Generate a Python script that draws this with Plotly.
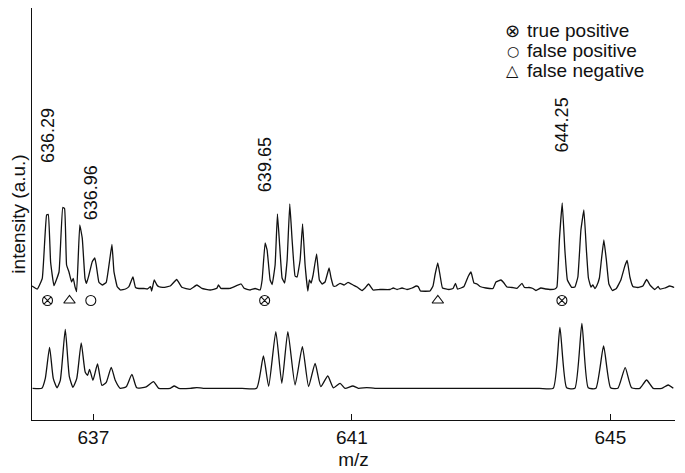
import plotly.graph_objects as go

# ---------------- data ----------------
# measured (noisy) spectrum
top_mz = [636.050, 636.132, 636.209, 636.276, 636.302, 636.338, 636.390, 636.468, 636.526, 636.554,
          636.585, 636.622, 636.662, 636.689, 636.715, 636.740, 636.789, 636.828, 636.870, 636.894,
          636.931, 636.982, 637.021, 637.044, 637.086, 637.137, 637.199, 637.287, 637.318, 637.369,
          637.420, 637.497, 637.550, 637.612, 637.652, 637.705, 637.782, 637.833, 637.884, 637.902,
          637.941, 637.983, 638.014, 638.085, 638.189, 638.289, 638.369, 638.498, 638.601, 638.679,
          638.807, 638.911, 638.935, 638.972, 639.116, 639.286, 639.333, 639.426, 639.503, 639.580,
          639.611, 639.657, 639.688, 639.735, 639.766, 639.812, 639.848, 639.882, 639.920, 639.959,
          639.998, 640.039, 640.075, 640.121, 640.152, 640.199, 640.237, 640.276, 640.318, 640.343,
          640.369, 640.400, 640.454, 640.497, 640.539, 640.585, 640.647, 640.678, 640.714, 640.755,
          640.817, 640.879, 640.941, 641.018, 641.080, 641.157, 641.204, 641.258, 641.328, 641.436,
          641.590, 641.641, 641.699, 641.776, 641.853, 641.931, 641.997, 642.028, 642.062, 642.209,
          642.255, 642.286, 642.329, 642.364, 642.402, 642.503, 642.565, 642.603, 642.634, 642.688,
          642.735, 642.796, 642.843, 642.889, 642.936, 642.982, 643.075, 643.183, 643.229, 643.307,
          643.353, 643.400, 643.477, 643.554, 643.632, 643.670, 643.740, 643.802, 643.848, 643.925,
          644.003, 644.065, 644.142, 644.173, 644.211, 644.255, 644.296, 644.335, 644.400, 644.451,
          644.497, 644.544, 644.590, 644.629, 644.660, 644.699, 644.729, 644.760, 644.791, 644.830,
          644.861, 644.899, 644.938, 644.977, 645.031, 645.093, 645.162, 645.224, 645.260, 645.302,
          645.348, 645.425, 645.503, 645.560, 645.618, 645.688, 645.739, 645.765, 645.843, 645.920,
          645.987]
top_int = [4, 1, 11.7, 75, 75.5, 28, 4.3, 18, 82.5, 81.5,
           25, 18, 8, 11.7, 3.3, -1.7, 65, 51.7, 11.7, 6.7,
           15, 28.3, 32, 25, 7.7, 5, 7.7, 45.5, 18.3, 3.3,
           0, 1, 3.3, 13, 2.5, 1.5, 1.5, 1, 3.3, -1,
           10, 5, 3.3, 2.7, 4, 10.5, 2.7, 0.7, 5, 1.7,
           0, 1.7, 5, 1.7, 1.7, 6, 1.7, 0, 1.5, 0,
           10, 47, 40, 10, 5.5, 25, 76, 45, 12, 7,
           30, 86, 50, 14, 13, 30, 66, 25, -1, 10,
           7, 15, 36, 10, 6, 8, 22, 12, 4, 4,
           6.7, 5, 7.7, 5, 3, -0.5, 2, 6, 0, 0.5,
           0.5, 2, 0.5, 2, 0.5, 2, 4, 3.3, -1, -1,
           4, 15, 27, 15, 2, 0.5, 1.5, 6.7, 1, 2,
           3.5, 13, 18, 7, 6, 3.5, 2, 1.5, 8, 10,
           7, 3, 2.5, 1.7, 6.7, 2.5, 2.5, 1.5, -0.5, 2,
           1, 0.5, 1, 3, 50, 87, 40, 10, 2.7, 3,
           13, 60, 80, 40, 12, 3, 5, 1.5, 4.5, 12,
           30, 50, 30, 6, -0.5, 1.5, 10, 24, 29.5, 13,
           3.5, 2.5, 4, 10.5, 4.5, 0.5, 3.5, 1, 2, 4,
           2.5]

# theoretical (model) spectrum
bot_mz = [636.059, 636.202, 636.256, 636.322, 636.379, 636.437, 636.488, 636.565, 636.627, 636.684,
          636.743, 636.812, 636.874, 636.910, 636.941, 636.993, 637.064, 637.132, 637.199, 637.276,
          637.338, 637.415, 637.508, 637.596, 637.671, 637.817, 637.930, 638.011, 638.189, 638.250,
          638.320, 638.498, 638.601, 638.699, 639.000, 639.300, 639.526, 639.631, 639.712, 639.823,
          639.916, 640.009, 640.121, 640.234, 640.330, 640.431, 640.519, 640.627, 640.714, 640.817,
          640.895, 641.014, 641.100, 641.230, 641.358, 642.000, 642.700, 643.400, 643.900, 644.116,
          644.219, 644.323, 644.451, 644.559, 644.657, 644.776, 644.895, 645.003, 645.116, 645.229,
          645.328, 645.456, 645.560, 645.662, 645.796, 645.894, 645.974]
bot_int = [0, 0, 10, 41, 10, 0.5, 8, 59, 12, 1,
           10, 45.5, 16, 13, 19, 8, 24.3, 3, 6, 21,
           8, 0, 1.5, 14, 0.5, 1.5, 6.7, 0, 0, 2.3,
           0, 0, 0.7, 0, 0, 0, 0, 32.3, 2, 56.7,
           5, 56.7, 3.3, 41.7, 1.7, 25, 1.7, 12.3, 0.5, 5,
           0, 2.3, 0, 0.7, 0, 0, 0, 0, 0, 0,
           61, 0.5, 0, 65, 0.5, 0, 42.3, 0.5, 0, 20.7,
           0.5, 0, 8.3, 0, 0, 3.3, 0]

true_pos_mz = [636.29, 639.65, 644.25]
false_pos_mz = [636.96]
false_neg_mz = [636.63, 642.33]

peak_labels = ["636.29", "636.96", "639.65", "644.25"]
peak_label_mz = [636.29, 636.96, 639.65, 644.25]

x_tick_vals = [637, 641, 645]
legend_names = ["true positive", "false positive", "false negative"]
legend_glyphs = ["\u2297", "\u25CB", "\u25B3"]

# ---------------- layout constants ----------------
TOP_OFFSET = 130.0
BOT_OFFSET = 31.7
MARKER_Y = 119.5
LABEL_Y = [284.5, 227.5, 255.5, 295.5]
GLYPH_SIZES = [18, 14, 16]
FONT = "Liberation Sans, Arial, Helvetica, sans-serif"
INK = "#111111"

fig = go.Figure()
fig.add_trace(go.Scatter(x=top_mz, y=[v + TOP_OFFSET for v in top_int], mode="lines",
                         line=dict(color=INK, width=1.3, shape="spline", smoothing=0.3),
                         showlegend=False, hoverinfo="skip"))
fig.add_trace(go.Scatter(x=bot_mz, y=[v + BOT_OFFSET for v in bot_int], mode="lines",
                         line=dict(color=INK, width=1.3, shape="spline", smoothing=0.5),
                         showlegend=False, hoverinfo="skip"))

for xs, sym in [(true_pos_mz, "circle-x-open"), (false_pos_mz, "circle-open"),
                (false_neg_mz, "triangle-up-open")]:
    fig.add_trace(go.Scatter(x=xs, y=[MARKER_Y] * len(xs), mode="markers",
                             marker=dict(symbol=sym, size=10, color=INK, line=dict(width=1.1, color=INK)),
                             showlegend=False, hoverinfo="skip"))

for txt, xm, ym in zip(peak_labels, peak_label_mz, LABEL_Y):
    fig.add_annotation(x=xm, y=ym, xref="x", yref="y", text=txt, textangle=-90,
                       showarrow=False, xanchor="center", yanchor="middle",
                       font=dict(family=FONT, size=18, color=INK))

leg_y = [0.9466, 0.8968, 0.8483]
for g, gs, name, yy in zip(legend_glyphs, GLYPH_SIZES, legend_names, leg_y):
    fig.add_annotation(x=0.748, y=yy, xref="paper", yref="paper", text=g, showarrow=False,
                       xanchor="center", yanchor="middle",
                       font=dict(family="DejaVu Sans", size=gs, color=INK))
    fig.add_annotation(x=0.7667, y=yy, xref="paper", yref="paper", text=name, showarrow=False,
                       xanchor="left", yanchor="middle",
                       font=dict(family=FONT, size=19, color=INK))

# the page body adds an 8px margin, so the figure is 8px smaller and margins shifted
fig.update_layout(
    width=677, height=465,
    margin=dict(l=24, r=10, t=0, b=53),
    paper_bgcolor="white", plot_bgcolor="white",
    font=dict(family=FONT, size=19, color=INK),
    xaxis=dict(range=[636.05, 646.0], showgrid=False, zeroline=False,
               showline=True, linecolor=INK, linewidth=1.2,
               ticks="inside", ticklen=6, tickcolor=INK, tickwidth=1,
               tickvals=x_tick_vals, ticktext=[str(v) for v in x_tick_vals],
               tickfont=dict(size=19),
               title=dict(text="m/z", font=dict(size=19), standoff=5), automargin=False),
    yaxis=dict(range=[0, 412], showgrid=False, zeroline=False,
               showline=True, linecolor=INK, linewidth=1.2,
               showticklabels=False, ticks="",
               title=dict(text="intensity (a.u.)", font=dict(size=19), standoff=3), automargin=False),
)

fig.write_html("out.html")
